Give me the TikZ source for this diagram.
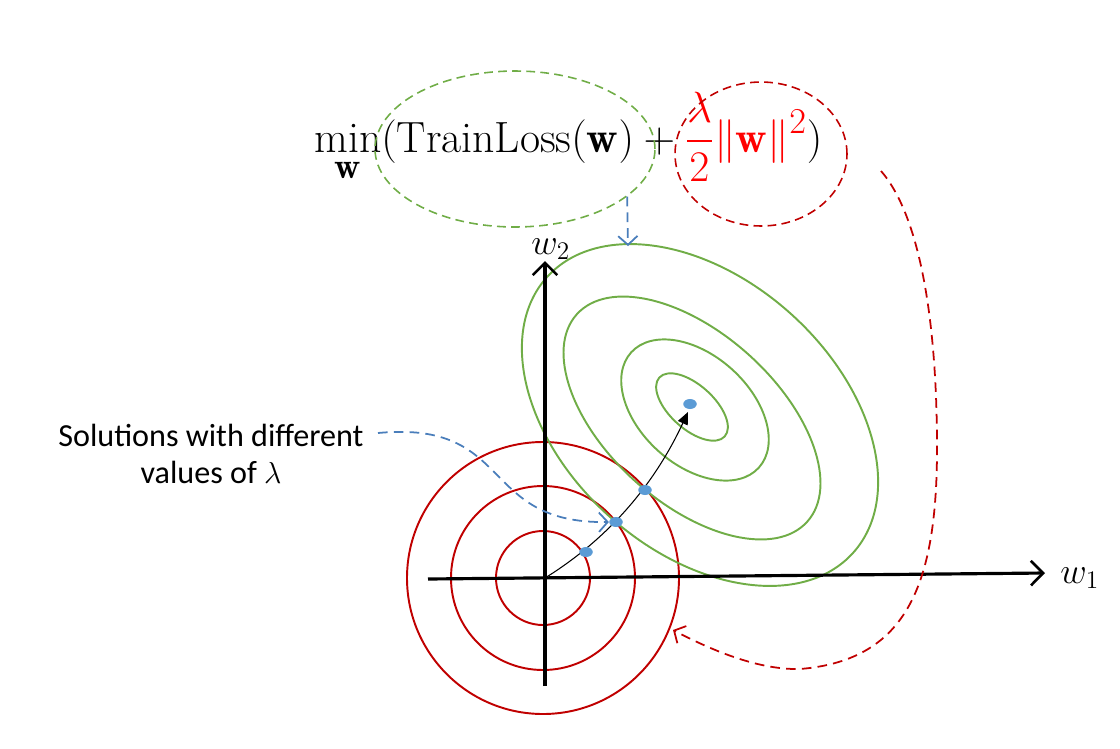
\documentclass[tikz,border=0pt]{standalone}
\usepackage{fontspec}
\usepackage{amsmath}
\usepackage{xcolor}
\usetikzlibrary{shapes.geometric,arrows.meta}
\newfontfamily\labelfont{Carlito}

\begin{document}
\begin{tikzpicture}[x=0.02cm,y=-0.02cm,
  axisline/.style={line width=1.8pt,-{Straight Barb[length=7pt,width=14pt,line width=1.5pt]}},
  contour/.style={line width=1.1pt},
  solnode/.style={ellipse,fill=solblue,inner sep=0pt,minimum width=0.27cm,minimum height=0.2cm},
  ringnode/.style={ellipse,draw,dash pattern=on 5pt off 3pt,line width=0.9pt,inner sep=0pt},
  hintline/.style={line width=1pt,dash pattern=on 5.5pt off 3.5pt,-{Straight Barb[length=5pt,width=11pt]}},
  pathline/.style={line width=0.6pt,-{Triangle[length=7pt,width=6pt]}}]
\useasboundingbox (0,0) rectangle (1120,748);
\definecolor{lossgreen}{HTML}{70AD47}
\definecolor{ringred}{HTML}{C00000}
\definecolor{solblue}{HTML}{5B9BD5}
\definecolor{hintblue}{HTML}{4A7EBB}

% objective with the two circled terms
\node[anchor=base west,inner sep=0pt,font=\fontsize{24.88}{30}\selectfont] (objective) at (314,152)
  {$\displaystyle\min_{\mathbf{w}}(\mathrm{TrainLoss}(\mathbf{w})+\textcolor{red}{\frac{\lambda}{2}\|\mathbf{w}\|^{2}})$};
\node[ringnode,lossgreen,minimum width=5.6cm,minimum height=3.12cm] (trainloss) at (515,149) {};
\node[ringnode,ringred,minimum width=3.44cm,minimum height=2.88cm] (penalty) at (761,154) {};

% contours
\coordinate (c) at (543,578);
\foreach \r in {47,92,136}
  \draw[contour,ringred] (c) circle[radius=\r];
\foreach \a/\b/\cx/\cy in {44/22/692/407,86/55/695/410,155/85/692/418,206/136/700/415}
  \draw[contour,lossgreen,rotate around={-42:(\cx,\cy)}] (\cx,\cy) ellipse[x radius=\a,y radius=\b];

% axes
\coordinate (o) at (545,578);
\coordinate (xs) at (428,579);
\coordinate (xe) at (1045,573);
\coordinate (ys) at (545,686);
\coordinate (ye) at (545,261);
\draw[axisline] (xs) -- (xe);
\draw[axisline] (ys) -- (ye);
\node[anchor=base west,inner sep=0pt,font=\fontsize{21}{24}\selectfont] (w1) at (1060,583) {$w_1$};
\node[anchor=base west,inner sep=0pt,font=\fontsize{21}{24}\selectfont] (w2) at (531,254) {$w_2$};

% solution path
\foreach \nm/\px/\py in {p1/586/552,p2/616/522,p3/645/490,pmin/690/404}
  \coordinate (\nm) at (\px,\py);
\coordinate (tip) at (688,412);
\draw[pathline] (o) .. controls (595,547) and (648,498) .. (tip);
\foreach \nm in {p1,p2,p3,pmin}
  \node[solnode] (s\nm) at (\nm) {};

% label and hints
\node[align=center,inner sep=0pt,font=\labelfont\fontsize{18.3}{21.5}\selectfont] (solutions) at (211,454)
  {Solutions with different\\values of $\lambda$};
\coordinate (hs) at (378,433);
\coordinate (gtop) at (628,246);
\coordinate (rs) at (881,171);
\coordinate (re) at (673,630);
\draw[hintline,hintblue] (hs) .. controls (515,420) and (478,524) .. (sp2.west);
\draw[hintline,hintblue] (trainloss.-23) -- (gtop);
\draw[hintline,ringred] (rs) .. controls (915,210) and (936,300) .. (937,440)
  .. controls (938,580) and (910,660) .. (800,669) .. controls (760,670) and (715,652) .. (re);
\end{tikzpicture}
\end{document}
